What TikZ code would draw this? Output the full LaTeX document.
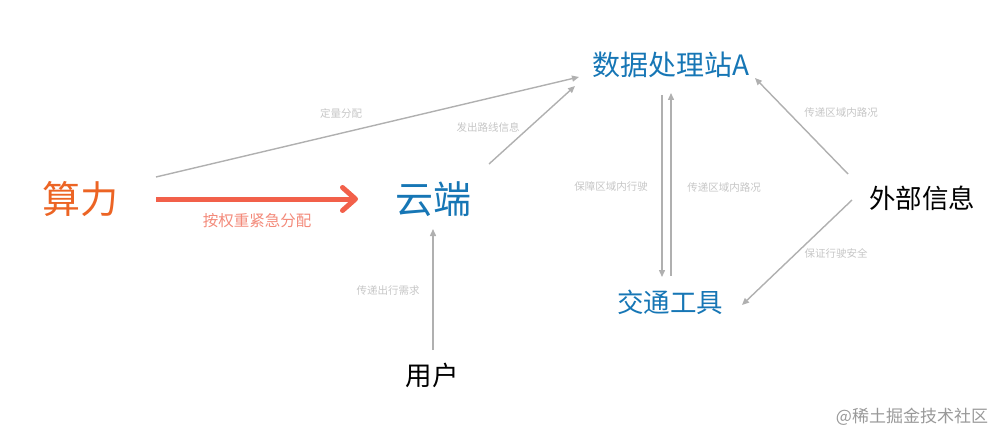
\documentclass[tikz,border=0pt]{standalone}
\usepackage{fontspec}
\usepackage{xcolor}
\usetikzlibrary{calc,arrows.meta}
\newfontfamily\cjk{Noto Sans CJK SC}
\definecolor{flowblue}{HTML}{1676B5}
\definecolor{floworange}{HTML}{EC6424}
\definecolor{flowred}{HTML}{F2604A}
\definecolor{flowsalmon}{HTML}{F38A7A}
\definecolor{flowgray}{HTML}{B0B0B0}
\definecolor{flowlab}{HTML}{C6C6C6}
\tikzset{
  bigtxt/.style={inner sep=2pt, font=\cjk\fontsize{38}{40}\selectfont},
  midtxt/.style={inner sep=2pt, font=\cjk\fontsize{26.5}{28}\selectfont},
  smalllab/.style={inner sep=1pt, text=flowlab, font=\cjk\fontsize{10.5}{12}\selectfont},
  grayarr/.style={draw=flowgray, line width=1.4pt, -{Triangle[length=7pt,width=6pt]}},
  redarr/.style={draw=flowred, line width=5pt,
                 -{Straight Barb[length=13pt,width=23pt,round]}}
}
\begin{document}
\begin{tikzpicture}[x=1pt, y=-1pt]
  \useasboundingbox (0,0) rectangle (998,433);
  % main nodes
  \node[bigtxt, text=floworange] (suanli) at (80,199) {算力};
  \node[bigtxt, text=flowblue] (yun) at (433,199) {云端};
  \node[midtxt, text=flowblue, font=\cjk\fontsize{28}{30}\selectfont] (station) at (671,65) {数据处理站A};
  \node[midtxt, text=flowblue] (traffic) at (670,302) {交通工具};
  \node[midtxt, text=black] (user) at (432,375) {用户};
  \node[midtxt, text=black] (ext) at (922,198) {外部信息};
  % connectors
  \draw[redarr] ($(suanli)+(76,0)$) -- ($(yun)+(-75,0)$);
  \draw[grayarr] ($(suanli)+(76,-22)$) -- ($(station)+(-92,12)$);
  \draw[grayarr] ($(yun)+(56,-35)$) -- ($(station)+(-96,21)$);
  \draw[grayarr] ($(station)+(-9,30)$) -- ($(traffic)+(-8,-25)$);
  \draw[grayarr] ($(traffic)+(1,-26)$) -- ($(station)+(0,28)$);
  \draw[grayarr] ($(ext)+(-74,-24)$) -- ($(station)+(84,13)$);
  \draw[grayarr] ($(ext)+(-70,2)$) -- ($(traffic)+(72,3)$);
  \draw[grayarr] ($(user)+(1,-25)$) -- ($(yun)+(0,30)$);
  % labels
  \node[inner sep=1pt, text=flowsalmon, font=\cjk\fontsize{15.5}{17}\selectfont]
    (lblurgent) at (257,221) {按权重紧急分配};
  \node[smalllab] (lblquota) at (341,113) {定量分配};
  \node[smalllab] (lblroute) at (488,127) {发出路线信息};
  \node[smalllab] (lblsafe) at (611,187) {保障区域内行驶};
  \node[smalllab] (lblinner) at (724,188) {传递区域内路况};
  \node[smalllab] (lblouter) at (841,113) {传递区域内路况};
  \node[smalllab] (lblsecure) at (836,253) {保证行驶安全};
  \node[smalllab] (lbldemand) at (388,291) {传递出行需求};
  \node[inner sep=0pt, text=black!40, font=\cjk\fontsize{17}{19}\selectfont]
    (mark) at (912,417) {@稀土掘金技术社区};
\end{tikzpicture}
\end{document}
